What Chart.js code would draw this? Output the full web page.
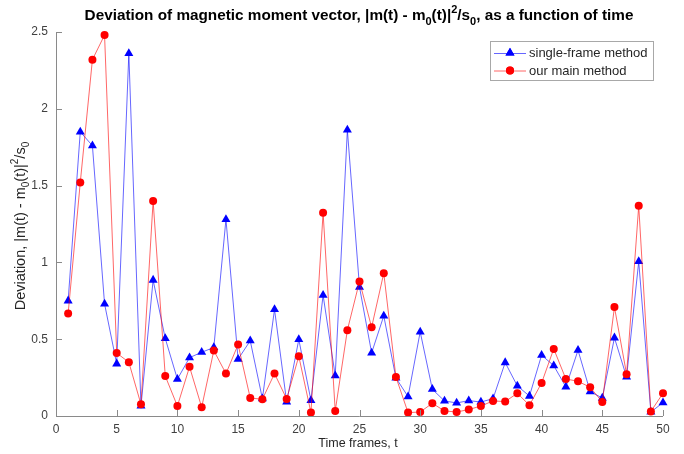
<!DOCTYPE html>
<html>
<head>
<meta charset="utf-8">
<script src="https://cdn.jsdelivr.net/npm/chart.js@4.4.1/dist/chart.umd.min.js"></script>
<style>
  html, body { margin: 0; padding: 0; background: #fff; }
  #wrap { width: 684px; height: 454px; }
</style>
</head>
<body>
<div id="wrap"><canvas id="chart" width="684" height="454"></canvas></div>
<script>
// данные
const timeFrames = Array.from({ length: 50 }, (_, i) => i + 1);
const singleFrame = [
  0.75, 1.85, 1.76, 0.73, 0.34, 2.36, 0.065, 0.885, 0.505, 0.24,
  0.38, 0.415, 0.446, 1.28, 0.37, 0.49, 0.113, 0.694, 0.091, 0.498,
  0.102, 0.787, 0.263, 1.862, 0.839, 0.411, 0.652, 0.248, 0.126, 0.548,
  0.174, 0.098, 0.085, 0.1, 0.091, 0.113, 0.348, 0.196, 0.13, 0.396,
  0.328, 0.189, 0.428, 0.159, 0.117, 0.509, 0.254, 1.006, 0.026, 0.087
];
const mainMethod = [
  0.667, 1.52, 2.32, 2.48, 0.41, 0.35, 0.076, 1.40, 0.26, 0.065,
  0.32, 0.057, 0.426, 0.276, 0.465, 0.117, 0.109, 0.276, 0.111, 0.389,
  0.022, 1.323, 0.033, 0.559, 0.876, 0.578, 0.930, 0.254, 0.022, 0.026,
  0.083, 0.033, 0.026, 0.042, 0.065, 0.098, 0.094, 0.148, 0.07, 0.215,
  0.437, 0.241, 0.226, 0.187, 0.091, 0.709, 0.272, 1.369, 0.03, 0.148
];
const seriesLabels = ['single-frame method', 'our main method'];
const xTicks = [0, 5, 10, 15, 20, 25, 30, 35, 40, 45, 50];
const yTicks = [0, 0.5, 1, 1.5, 2, 2.5];

const FONT = '"Liberation Sans", Arial, sans-serif';

// текст с индексами: [строка, 'n' | 'sub' | 'sup']
const titleParts = [
  ['Deviation of magnetic moment vector, |m(t) - m', 'n'], ['0', 'sub'],
  ['(t)|', 'n'], ['2', 'sup'], ['/s', 'n'], ['0', 'sub'],
  [', as a function of time', 'n']
];
const yLabelParts = [
  ['Deviation, |m(t) - m', 'n'], ['0', 'sub'], ['(t)|', 'n'],
  ['2', 'sup'], ['/s', 'n'], ['0', 'sub']
];

function drawRich(ctx, parts, x, y, size, weight) {
  const small = Math.round(size * 0.72);
  const fontFor = t => `${weight} ${t === 'n' ? size : small}px ${FONT}`;
  let total = 0;
  parts.forEach(([s, t]) => { ctx.font = fontFor(t); total += ctx.measureText(s).width; });
  let cx = x - total / 2;
  ctx.textAlign = 'left';
  ctx.textBaseline = 'alphabetic';
  parts.forEach(([s, t]) => {
    ctx.font = fontFor(t);
    const dy = t === 'sub' ? size * 0.3 : t === 'sup' ? -size * 0.45 : 0;
    ctx.fillText(s, cx, y + dy);
    cx += ctx.measureText(s).width;
  });
}

const decorPlugin = {
  id: 'decor',
  afterDraw(chart) {
    const { ctx, chartArea: a, scales: { x, y } } = chart;
    ctx.save();

    // оси (только левая и нижняя)
    ctx.strokeStyle = '#8a8a8a';
    ctx.lineWidth = 1;
    ctx.beginPath();
    ctx.moveTo(a.left + 0.5, a.top);
    ctx.lineTo(a.left + 0.5, a.bottom + 0.5);
    ctx.lineTo(a.right, a.bottom + 0.5);
    ctx.stroke();
    // засечки внутрь
    ctx.beginPath();
    xTicks.forEach(v => {
      const px = Math.round(x.getPixelForValue(v)) + 0.5;
      ctx.moveTo(px, a.bottom);
      ctx.lineTo(px, a.bottom - 6);
    });
    yTicks.forEach(v => {
      const py = Math.round(y.getPixelForValue(v)) + 0.5;
      ctx.moveTo(a.left, py);
      ctx.lineTo(a.left + 6, py);
    });
    ctx.stroke();

    // заголовок
    ctx.fillStyle = '#000';
    drawRich(ctx, titleParts, 359, 20, 15.3, 'bold');

    // подпись оси Y
    ctx.save();
    ctx.translate(25, 226);
    ctx.rotate(-Math.PI / 2);
    ctx.fillStyle = '#262626';
    drawRich(ctx, yLabelParts, 0, 0, 14.5, 'normal');
    ctx.restore();

    // подпись оси X
    ctx.fillStyle = '#262626';
    ctx.font = `12.5px ${FONT}`;
    ctx.textAlign = 'center';
    ctx.textBaseline = 'alphabetic';
    ctx.fillText('Time frames, t', 358, 447);

    // легенда
    const lx = 490, ly = 41, lw = 163, lh = 39;
    ctx.fillStyle = '#fff';
    ctx.fillRect(lx, ly, lw, lh);
    ctx.strokeStyle = '#a8a8a8';
    ctx.strokeRect(lx + 0.5, ly + 0.5, lw, lh);
    const rows = [
      { label: seriesLabels[0], line: 'rgba(0,0,255,0.6)', fill: '#0000ff', style: 'triangle', cy: 53 },
      { label: seriesLabels[1], line: 'rgba(255,0,0,0.6)', fill: '#ff0000', style: 'circle', cy: 70.5 }
    ];
    rows.forEach(r => {
      ctx.strokeStyle = r.line;
      ctx.beginPath();
      ctx.moveTo(494, r.cy + 0.5);
      ctx.lineTo(526, r.cy + 0.5);
      ctx.stroke();
      ctx.fillStyle = r.fill;
      Chart.helpers.drawPoint(ctx, { pointStyle: r.style, radius: r.style === 'triangle' ? 5.2 : 4, borderWidth: 0 }, 510, r.cy);
      ctx.fill();
      ctx.fillStyle = '#262626';
      ctx.font = `13px ${FONT}`;
      ctx.textAlign = 'left';
      ctx.textBaseline = 'middle';
      ctx.fillText(r.label, 529, r.cy + 0.5);
    });

    ctx.restore();
  }
};

new Chart(document.getElementById('chart').getContext('2d'), {
  type: 'line',
  data: {
    labels: timeFrames,
    datasets: [{
      label: seriesLabels[0],
      data: timeFrames.map((t, i) => ({ x: t, y: singleFrame[i] })),
      borderColor: 'rgba(0,0,255,0.6)',
      borderWidth: 1,
      pointStyle: 'triangle',
      pointRadius: 5.2,
      pointBackgroundColor: '#0000ff',
      pointBorderWidth: 0,
      tension: 0,
      clip: false,
      order: 1
    }, {
      label: seriesLabels[1],
      data: timeFrames.map((t, i) => ({ x: t, y: mainMethod[i] })),
      borderColor: 'rgba(255,0,0,0.6)',
      borderWidth: 1,
      pointStyle: 'circle',
      pointRadius: 4,
      pointBackgroundColor: '#ff0000',
      pointBorderWidth: 0,
      tension: 0,
      clip: false,
      order: 0
    }]
  },
  options: {
    responsive: false,
    animation: false,
    events: [],
    layout: { padding: { top: 32, right: 21, left: 0, bottom: 0 } },
    plugins: {
      legend: { display: false },
      title: { display: false },
      tooltip: { enabled: false }
    },
    scales: {
      x: {
        type: 'linear',
        min: 0,
        max: 50,
        afterBuildTicks: s => { s.ticks = xTicks.map(v => ({ value: v })); },
        afterFit: s => { s.height = 38; },
        grid: { display: false, drawTicks: false },
        border: { display: false },
        ticks: { color: '#404040', font: { family: FONT, size: 12 }, padding: 6, maxRotation: 0 }
      },
      y: {
        min: 0,
        max: 2.5,
        afterBuildTicks: s => { s.ticks = yTicks.map(v => ({ value: v })); },
        afterFit: s => { s.width = 56; },
        grid: { display: false, drawTicks: false },
        border: { display: false },
        ticks: { color: '#404040', font: { family: FONT, size: 12 }, padding: 8, callback: v => String(v) }
      }
    }
  },
  plugins: [decorPlugin]
});
</script>
</body>
</html>
